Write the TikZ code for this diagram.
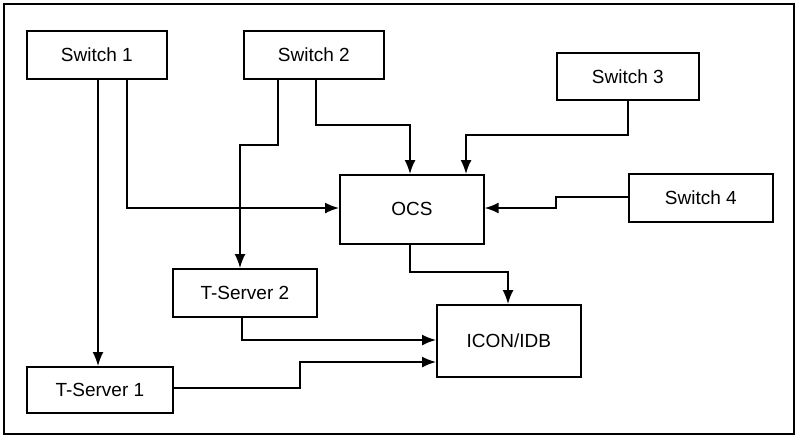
\documentclass[tikz,border=0pt]{standalone}
\usepackage{fontspec}
\setmainfont{Liberation Sans}
\usetikzlibrary{arrows.meta}
\begin{document}
\begin{tikzpicture}[x=1pt,y=-1pt,
  box/.style={draw,line width=1.7pt,fill=white,anchor=north west,inner sep=0pt,font=\fontsize{19}{22}\selectfont},
  conn/.style={line width=1.6pt,-{Latex[length=14pt,width=11pt]}}]
\useasboundingbox (0,0) rectangle (800,440);
\draw[line width=1.7pt] (4,4) rectangle (794,434);
\node[box,minimum width=140pt,minimum height=48pt] (s1) at (26,30) {Switch 1};
\node[box,minimum width=140pt,minimum height=48pt] (s2) at (243,30) {Switch 2};
\node[box,minimum width=142pt,minimum height=47pt] (s3) at (556,52) {Switch 3};
\node[box,minimum width=144pt,minimum height=48pt] (s4) at (628,173) {Switch 4};
\node[box,minimum width=144pt,minimum height=69pt] (ocs) at (339,174) {OCS};
\node[box,minimum width=144pt,minimum height=48pt] (t2) at (172,268) {T-Server 2};
\node[box,minimum width=144pt,minimum height=72pt] (icon) at (436,304) {ICON/IDB};
\node[box,minimum width=146pt,minimum height=46pt] (t1) at (26,366) {T-Server 1};
\draw[conn] (s1.south west) ++(72,0) coordinate (a) -- (a |- t1.north);
\draw[conn] (s1.south west) ++(101,0) coordinate (b) -- (b |- 0,208) -- (ocs.west |- 0,208);
\draw[conn] (s2.south west) ++(35,0) coordinate (c) -- (c |- 0,145) -- (240,145) -- (240,268);
\draw[conn] (s2.south west) ++(73,0) coordinate (d) -- (d |- 0,125) -- (410,125) -- (410,174);
\draw[conn] (s3.south west) ++(72,0) coordinate (e) -- (e |- 0,135) -- (466,135) -- (466,174);
\draw[conn] (s4.west |- 0,197) -- (556,197) -- (556,208) -- (ocs.east |- 0,208);
\draw[conn] (410,243) -- (410,272) -- (508,272) -- (508,304);
\draw[conn] (242,316) -- (242,340) -- (icon.west |- 0,340);
\draw[conn] (t1.east |- 0,388) -- (300,388) -- (300,362) -- (icon.west |- 0,362);
\end{tikzpicture}
\end{document}
